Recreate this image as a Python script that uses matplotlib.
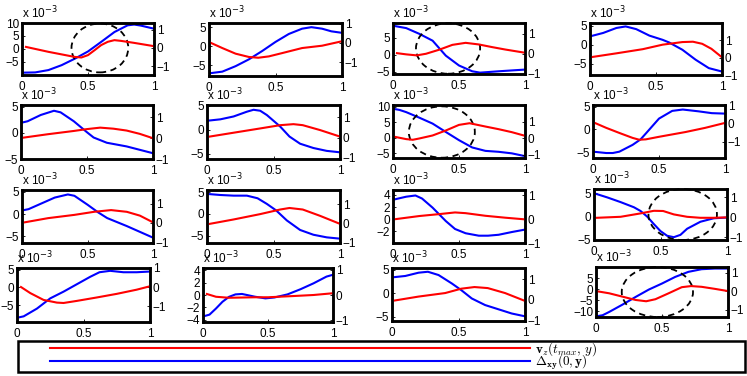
import numpy as np
import matplotlib
matplotlib.use("Agg")
import matplotlib.pyplot as plt
from matplotlib.patches import Ellipse, Rectangle

plt.rcParams['font.family'] = ['Liberation Sans', 'DejaVu Sans']
plt.rcParams['font.size'] = 8.5

W, H = 747, 376

# --- data: blue = Delta_xy(0,y) (left axis, x 1e-3), red = v_z(t_max,y) (right axis)
p11_bx = [0, 0.1, 0.2, 0.3, 0.4, 0.5, 0.6, 0.7, 0.8, 0.85, 0.9, 1.0]
p11_by = [-9.2, -9.1, -8.2, -6.3, -3.8, -1.0, 2.7, 6.5, 9.1, 9.4, 9.0, 7.8]
p11_rx = [0.03, 0.2, 0.4, 0.45, 0.5, 0.55, 0.6, 0.65, 0.7, 0.75, 0.85, 1.0]
p11_ry = [0.05, -0.22, -0.5, -0.53, -0.4, -0.13, 0.15, 0.33, 0.42, 0.38, 0.27, 0.09]

p12_bx = [0, 0.1, 0.2, 0.3, 0.4, 0.5, 0.6, 0.7, 0.77, 0.85, 0.92, 1.0]
p12_by = [-7.2, -6.75, -5.3, -3.5, -1.3, 1.1, 3.2, 4.6, 5.0, 4.6, 3.9, 3.5]
p12_rx = [0, 0.1, 0.2, 0.3, 0.37, 0.45, 0.55, 0.7, 0.85, 1.0]
p12_ry = [0.05, -0.26, -0.55, -0.72, -0.76, -0.69, -0.52, -0.26, -0.14, 0.09]

p13_bx = [0, 0.1, 0.2, 0.3, 0.4, 0.5, 0.6, 0.66, 0.8, 1.0]
p13_by = [8.5, 7.8, 6.1, 4.1, -0.3, -3.2, -4.9, -5.3, -4.9, -4.4]
p13_rx = [0.03, 0.1, 0.18, 0.25, 0.35, 0.45, 0.55, 0.65, 0.75, 0.85, 1.0]
p13_ry = [0.03, -0.03, -0.08, 0.0, 0.2, 0.44, 0.54, 0.46, 0.33, 0.21, 0.05]

p14_bx = [0, 0.1, 0.2, 0.27, 0.35, 0.45, 0.55, 0.6, 0.7, 0.8, 0.9, 1.0]
p14_by = [2.2, 3.1, 4.4, 4.8, 4.1, 2.4, 1.3, 0.6, -1.3, -3.9, -6.1, -7.0]
p14_rx = [0, 0.2, 0.4, 0.55, 0.7, 0.78, 0.85, 0.92, 1.0]
p14_ry = [0.02, 0.25, 0.49, 0.75, 0.9, 0.92, 0.8, 0.51, 0.02]

p21_bx = [0, 0.05, 0.15, 0.25, 0.3, 0.4, 0.5, 0.55, 0.65, 0.8, 0.9, 1.0]
p21_by = [1.9, 2.2, 3.4, 4.2, 3.9, 2.2, 0.1, -0.9, -1.9, -2.6, -3.25, -3.9]
p21_rx = [0.02, 0.2, 0.4, 0.5, 0.6, 0.7, 0.8, 0.9, 1.0]
p21_ry = [0.03, 0.19, 0.35, 0.44, 0.51, 0.46, 0.37, 0.21, 0.0]

p22_bx = [0, 0.1, 0.2, 0.3, 0.35, 0.4, 0.45, 0.55, 0.62, 0.7, 0.8, 0.9, 1.0]
p22_by = [1.9, 2.2, 2.8, 3.8, 4.2, 4.0, 3.1, 0.7, -1.4, -2.9, -3.8, -4.4, -4.7]
p22_rx = [0.02, 0.2, 0.4, 0.55, 0.65, 0.72, 0.85, 1.0]
p22_ry = [0.05, 0.24, 0.45, 0.61, 0.66, 0.61, 0.37, 0.05]

p23_bx = [0, 0.05, 0.1, 0.2, 0.3, 0.4, 0.5, 0.6, 0.7, 0.8, 0.9, 1.0]
p23_by = [9.3, 8.9, 8.2, 6.4, 4.5, 1.8, -0.85, -3.2, -4.3, -4.6, -5.1, -6.0]
p23_rx = [0, 0.1, 0.15, 0.2, 0.3, 0.4, 0.5, 0.58, 0.7, 0.8, 0.9, 1.0]
p23_ry = [0.1, -0.06, -0.1, -0.02, 0.16, 0.46, 0.8, 0.9, 0.7, 0.54, 0.36, 0.14]

p24_bx = [0, 0.1, 0.15, 0.2, 0.3, 0.36, 0.4, 0.5, 0.6, 0.68, 0.8, 0.9, 1.0]
p24_by = [-4.9, -5.2, -5.2, -4.9, -3.4, -2.2, -0.9, 2.4, 4.1, 4.4, 4.0, 3.6, 3.5]
p24_rx = [0.02, 0.1, 0.2, 0.3, 0.35, 0.4, 0.5, 0.7, 0.85, 1.0]
p24_ry = [0.0, -0.25, -0.53, -0.8, -0.9, -0.88, -0.74, -0.48, -0.25, 0.02]

p31_bx = [0, 0.05, 0.15, 0.25, 0.35, 0.4, 0.5, 0.58, 0.65, 0.8, 0.9, 1.0]
p31_by = [0.8, 1.1, 2.4, 3.7, 4.4, 4.1, 2.1, 0.4, -0.9, -2.7, -4.0, -5.3]
p31_rx = [0.02, 0.2, 0.4, 0.55, 0.68, 0.8, 0.9, 1.0]
p31_ry = [0.03, 0.25, 0.42, 0.58, 0.67, 0.58, 0.38, 0.03]

p32_bx = [0, 0.1, 0.2, 0.3, 0.38, 0.45, 0.52, 0.6, 0.7, 0.8, 0.9, 1.0]
p32_by = [4.6, 4.35, 4.2, 4.2, 3.6, 2.3, 0.8, -1.5, -3.7, -4.8, -5.4, -5.7]
p32_rx = [0.02, 0.2, 0.4, 0.55, 0.62, 0.72, 0.85, 1.0]
p32_ry = [-0.03, 0.2, 0.48, 0.72, 0.8, 0.72, 0.39, -0.03]

p33_bx = [0, 0.1, 0.17, 0.22, 0.3, 0.35, 0.4, 0.47, 0.55, 0.65, 0.72, 0.8, 0.9, 1.0]
p33_by = [3.2, 3.7, 3.9, 3.4, 1.9, 0.8, -0.3, -1.6, -2.3, -2.7, -2.7, -2.55, -2.1, -1.7]
p33_rx = [0.02, 0.2, 0.35, 0.47, 0.55, 0.7, 0.85, 1.0]
p33_ry = [0.0, 0.13, 0.21, 0.28, 0.25, 0.14, 0.06, -0.01]

p34_bx = [0, 0.1, 0.2, 0.3, 0.35, 0.4, 0.45, 0.5, 0.55, 0.6, 0.65, 0.7, 0.8, 0.9, 1.0]
p34_by = [5.0, 4.1, 3.1, 2.0, 1.2, 0.0, -1.6, -3.1, -4.1, -4.4, -3.9, -2.6, -1.1, -0.36, -0.2]
p34_rx = [0.02, 0.2, 0.35, 0.45, 0.52, 0.6, 0.7, 0.8, 0.9, 1.0]
p34_ry = [-0.02, 0.03, 0.2, 0.33, 0.32, 0.15, 0.03, -0.02, -0.02, 0.0]

p41_bx = [0, 0.05, 0.15, 0.25, 0.35, 0.45, 0.55, 0.62, 0.7, 0.8, 0.9, 1.0]
p41_by = [-8.6, -8.2, -6.0, -3.1, -1.2, 0.9, 3.0, 4.3, 4.7, 4.3, 4.3, 4.5]
p41_rx = [0.03, 0.1, 0.2, 0.3, 0.35, 0.45, 0.6, 0.75, 0.9, 1.0]
p41_ry = [0.0, -0.32, -0.68, -0.82, -0.84, -0.73, -0.55, -0.36, -0.14, 0.04]

p42_bx = [0, 0.05, 0.1, 0.15, 0.2, 0.25, 0.3, 0.4, 0.48, 0.55, 0.65, 0.75, 0.85, 0.95, 1.0]
p42_by = [-3.5, -3.2, -2.2, -1.1, -0.3, 0.1, 0.17, -0.28, -0.55, -0.4, 0.1, 0.94, 1.9, 3.0, 3.3]
p42_rx = [0.03, 0.1, 0.2, 0.4, 0.5, 0.7, 0.85, 1.0]
p42_ry = [0.04, -0.07, -0.11, -0.09, -0.09, -0.04, 0.0, 0.07]

p43_bx = [0, 0.1, 0.2, 0.27, 0.35, 0.45, 0.52, 0.6, 0.7, 0.8, 0.9, 1.0]
p43_by = [3.4, 3.7, 4.4, 4.6, 3.9, 2.1, 0.7, -1.1, -2.5, -3.4, -4.3, -4.9]
p43_rx = [0.02, 0.2, 0.4, 0.52, 0.62, 0.72, 0.85, 1.0]
p43_ry = [-0.03, 0.16, 0.33, 0.54, 0.62, 0.57, 0.33, -0.05]

p44_bx = [0, 0.05, 0.1, 0.2, 0.3, 0.4, 0.5, 0.6, 0.7, 0.8, 0.9, 1.0]
p44_by = [-12.3, -11.8, -10.3, -7.0, -3.5, -0.15, 2.6, 5.6, 7.9, 9.1, 9.4, 9.4]
p44_rx = [0, 0.1, 0.2, 0.3, 0.38, 0.45, 0.55, 0.65, 0.72, 0.8, 0.9, 1.0]
p44_ry = [0, -0.12, -0.3, -0.48, -0.55, -0.44, -0.12, 0.21, 0.27, 0.23, 0.12, 0]

blue_x = [p11_bx, p12_bx, p13_bx, p14_bx, p21_bx, p22_bx, p23_bx, p24_bx,
          p31_bx, p32_bx, p33_bx, p34_bx, p41_bx, p42_bx, p43_bx, p44_bx]
blue_y = [p11_by, p12_by, p13_by, p14_by, p21_by, p22_by, p23_by, p24_by,
          p31_by, p32_by, p33_by, p34_by, p41_by, p42_by, p43_by, p44_by]
red_x = [p11_rx, p12_rx, p13_rx, p14_rx, p21_rx, p22_rx, p23_rx, p24_rx,
         p31_rx, p32_rx, p33_rx, p34_rx, p41_rx, p42_rx, p43_rx, p44_rx]
red_y = [p11_ry, p12_ry, p13_ry, p14_ry, p21_ry, p22_ry, p23_ry, p24_ry,
         p31_ry, p32_ry, p33_ry, p34_ry, p41_ry, p42_ry, p43_ry, p44_ry]

left_lims = [(-10.1, 10), (-7.9, 6.1), (-5.7, 9.3), (-7.9, 5.7),
             (-5, 5.3), (-6.1, 5.2), (-6.6, 10.5), (-6.3, 5.4),
             (-6.5, 5.4), (-6.7, 5.5), (-3.9, 4.8), (-5, 5.9),
             (-9.8, 5.5), (-4.4, 4.4), (-5.9, 5.4), (-12.6, 10.1)]
left_ticks = [[-5, 0, 5, 10], [-5, 0, 5], [-5, 0, 5], [-5, 0, 5],
              [-5, 0, 5], [-5, 0, 5], [-5, 0, 5, 10], [-5, 0, 5],
              [-5, 0, 5], [-5, 0, 5], [-2, 0, 2, 4], [-5, 0, 5],
              [-5, 0, 5], [-4, -2, 0, 2, 4], [-5, 0, 5], [-10, -5, 0, 5]]
right_lims = [(-1.49, 1.36), (-1.7, 1.03), (-1.0, 1.52), (-1.0, 2.0),
              (-1.0, 1.6), (-1.05, 1.6), (-1.2, 2.0), (-1.9, 0.95),
              (-1.05, 1.72), (-1.03, 1.74), (-0.99, 1.22), (-1.13, 1.42),
              (-1.84, 1.0), (-1.07, 1.07), (-1.02, 1.54), (-1.4, 1.3)]
right_ticks = [-1, 0, 1]
x_ticks = [0, 0.5, 1]
x_ticklabels = ['0', '0.5', '1']

# dashed circles: panel index -> (cx, cy, w, h) in axes fraction
circles = {0: (0.59, 0.52, 0.43, 0.94), 2: (0.417, 0.5, 0.486, 0.99),
           6: (0.37, 0.49, 0.5, 0.97), 11: (0.667, 0.5, 0.515, 1.0),
           15: (0.465, 0.5, 0.54, 1.0)}

# axes rectangles in pixels: (left, top, right, bottom)
rects = [(22, 23, 154, 75), (209, 23, 342, 76), (393, 23, 525, 74), (590, 23, 722, 75),
         (21, 105, 153, 159), (207, 105, 340, 159), (393, 105, 525, 158), (593, 105, 725, 158),
         (22, 190, 153, 243), (207, 190, 340, 243), (393, 190, 525, 243), (594, 189, 727, 240),
         (17, 268, 150, 322), (203, 268, 333, 322), (392, 268, 525, 321), (596, 267, 728, 317)]

fig = plt.figure(figsize=(W / 100, H / 100), dpi=100)

for i in range(16):
    l, t, r, b = rects[i]
    ax = fig.add_axes([l / W, 1 - b / H, (r - l) / W, (b - t) / H])
    ax2 = ax.twinx()
    hb, = ax.plot(blue_x[i], blue_y[i], color='#0000ff', lw=1.5)
    hr, = ax2.plot(red_x[i], red_y[i], color='#ff0000', lw=1.5)
    ax.set_xlim(0, 1)
    ax.set_ylim(*left_lims[i])
    ax2.set_ylim(*right_lims[i])
    ax.set_xticks(x_ticks)
    ax.set_xticklabels(x_ticklabels)
    ax.set_yticks(left_ticks[i])
    ax2.set_yticks(right_ticks)
    for a in (ax, ax2):
        a.tick_params(direction='in', length=2.5, width=0.6, pad=2, labelsize=8.5)
        for s in a.spines.values():
            s.set_linewidth(1.8)
    ax.tick_params(axis='x', pad=4)
    ax.annotate(r'x 10$^{-3}$', xy=(0, 1), xycoords='axes fraction',
                xytext=(0, 1.5), textcoords='offset points',
                ha='left', va='bottom', fontsize=8.5)
    if i in circles:
        cx, cy, cw, ch = circles[i]
        ax2.add_patch(Ellipse((cx, cy), cw, ch, transform=ax2.transAxes,
                              fill=False, ls=(0, (3.5, 2.5)), lw=1.3,
                              color='black', clip_on=False))

# legend: frame drawn as a figure rectangle, entries placed inside it
fig.patches.append(Rectangle((18 / W, 4 / H), 727 / W, 31 / H, transform=fig.transFigure,
                             fill=False, lw=1.8, edgecolor='black'))
fs = 9.5
fs_px = fs * 100 / 72
leg = fig.legend([hr, hb], [r'$\mathbf{v}_z(t_{max},\,y)$', r'$\mathbf{\Delta_{xy}(0,y)}$'],
                 loc='center left', bbox_to_anchor=(50 / W, 20 / H),
                 fontsize=fs, handlelength=(530 - 50) / fs_px,
                 handletextpad=0.35, labelspacing=-0.4, borderpad=0, borderaxespad=0,
                 frameon=False)
for t in leg.get_texts():
    t.set_math_fontfamily('cm')

fig.savefig('out.png', dpi=100)
